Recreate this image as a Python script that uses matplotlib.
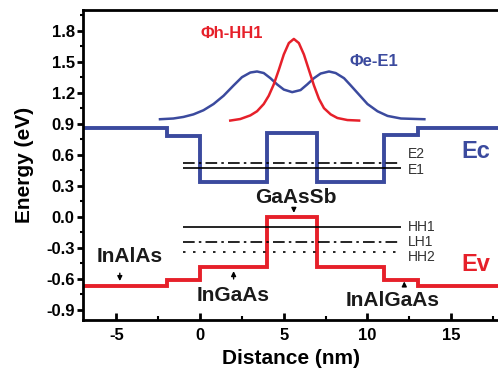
import matplotlib.pyplot as plt
from matplotlib.ticker import MultipleLocator
import numpy as np

plt.rcParams['font.family'] = ['Liberation Sans', 'DejaVu Sans']
plt.rcParams['axes.unicode_minus'] = False

# layer boundaries (nm) and band edges (eV)
edges = [-7, -2, 0, 4, 7, 11, 13, 17.8]
ec = [0.86, 0.78, 0.34, 0.81, 0.34, 0.79, 0.86]
ev = [-0.67, -0.61, -0.49, 0.0, -0.49, -0.61, -0.67]

# confined levels (eV)
e_levels = [0.52, 0.47]          # E2, E1
e_names = ['E2', 'E1']
h_levels = [-0.10, -0.245, -0.34]  # HH1, LH1, HH2
h_names = ['HH1', 'LH1', 'HH2']

# wavefunctions
phi_h_x = [1.8, 2.4, 3.0, 3.4, 3.8, 4.1, 4.4, 4.7, 5.0, 5.3, 5.6, 5.9, 6.2,
           6.5, 6.8, 7.1, 7.4, 7.8, 8.2, 8.8, 9.5]
phi_h_y = [0.93, 0.945, 0.98, 1.02, 1.09, 1.17, 1.28, 1.42, 1.57, 1.68, 1.72,
           1.68, 1.57, 1.42, 1.27, 1.14, 1.05, 0.99, 0.955, 0.935, 0.93]
phi_e_x = [-2.4, -1.6, -1.0, -0.4, 0.2, 0.8, 1.4, 2.0, 2.5, 3.0, 3.4, 3.8,
           4.2, 4.6, 5.0, 5.5, 6.0, 6.4, 6.8, 7.2, 7.7, 8.1, 8.6, 9.0, 9.5,
           10.0, 10.6, 11.2, 12.0, 13.4]
phi_e_y = [0.943, 0.95, 0.965, 0.99, 1.03, 1.09, 1.17, 1.27, 1.35, 1.395,
           1.405, 1.39, 1.34, 1.28, 1.23, 1.205, 1.225, 1.28, 1.34, 1.385,
           1.405, 1.39, 1.34, 1.27, 1.18, 1.09, 1.02, 0.975, 0.95, 0.943]

yticks = [-0.9, -0.6, -0.3, 0.0, 0.3, 0.6, 0.9, 1.2, 1.5, 1.8]
xticks = [-5, 0, 5, 10, 15]

blue = '#3b4a9e'
red = '#e6202a'

fig = plt.figure(figsize=(4.98, 3.77), dpi=100)
ax = fig.add_axes([83/498, 1-320/377, (498-83)/498, 310/377])

# band edges
ax.stairs(ec, edges, baseline=None, color=blue, lw=2.8, joinstyle='miter')
ax.stairs(ev, edges, baseline=None, color=red, lw=2.8, joinstyle='miter')

# wavefunctions
ax.plot(phi_e_x, phi_e_y, color=blue, lw=1.8)
ax.plot(phi_h_x, phi_h_y, color=red, lw=1.8)

# energy levels
styles = ['-', (0, (7, 2.5, 1.5, 2.5)), (0, (1.5, 4.5))]
ax.hlines(e_levels[0], -1.0, 11.8, colors='k', linestyles=styles[1], lw=1.2)
ax.hlines(e_levels[1], -1.0, 12.0, colors='k', linestyles=styles[0], lw=1.2)
for lev, ls in zip(h_levels, styles):
    ax.hlines(lev, -1.0, 12.0, colors='k', linestyles=ls, lw=1.2)

lab = dict(fontsize=10, color='#333333', va='center', ha='left')
ax.text(12.4, 0.607, e_names[0], **lab)
ax.text(12.4, 0.452, e_names[1], **lab)
ax.text(12.4, -0.10, h_names[0], **lab)
ax.text(12.4, -0.245, h_names[1], **lab)
ax.text(12.4, -0.39, h_names[2], **lab)

# labels
ax.text(1.86, 1.77, 'Φh-HH1', color=red, fontsize=12, fontweight='bold',
        ha='center', va='center')
ax.text(10.4, 1.50, 'Φe-E1', color=blue, fontsize=12, fontweight='bold',
        ha='center', va='center')
ax.text(16.5, 0.63, 'Ec', color=blue, fontsize=17, fontweight='bold',
        ha='center', va='center')
ax.text(16.5, -0.46, 'Ev', color=red, fontsize=17, fontweight='bold',
        ha='center', va='center')

mat = dict(fontsize=15, fontweight='bold', color='#1a1a1a', ha='center', va='center')
ax.text(-4.2, -0.39, 'InAlAs', **mat)
ax.text(2.0, -0.76, 'InGaAs', **mat)
ax.text(5.75, 0.19, 'GaAsSb', **mat)
ax.text(11.5, -0.81, 'InAlGaAs', **mat)

arr = dict(arrowstyle='-|>', color='k', lw=1, mutation_scale=7)
ax.annotate('', xy=(-4.8, -0.65), xytext=(-4.8, -0.52), arrowprops=arr)
ax.annotate('', xy=(2.0, -0.50), xytext=(2.0, -0.63), arrowprops=arr)
ax.annotate('', xy=(5.6, 0.01), xytext=(5.6, 0.10), arrowprops=arr)
ax.annotate('', xy=(12.2, -0.60), xytext=(12.2, -0.70), arrowprops=arr)

ax.set_xlim(-7, 17.8)
ax.set_ylim(-1.0, 2.0)
ax.set_yticks(yticks)
ax.set_yticklabels(['%.1f' % v for v in yticks])
ax.set_xticks(xticks)
ax.xaxis.set_minor_locator(MultipleLocator(2.5))
ax.yaxis.set_minor_locator(MultipleLocator(0.15))

for s in ['left', 'bottom', 'top']:
    ax.spines[s].set_linewidth(2)
ax.spines['right'].set_visible(False)

ax.tick_params(axis='x', which='major', direction='in', length=5, width=2,
               labelsize=12, pad=6)
ax.tick_params(axis='x', which='minor', direction='in', length=3, width=1.5)
ax.tick_params(axis='y', which='major', direction='out', length=4, width=2,
               labelsize=12, pad=2)
ax.tick_params(axis='y', which='minor', direction='out', length=2, width=1.5)
for t in ax.get_xticklabels() + ax.get_yticklabels():
    t.set_fontweight('bold')

ax.set_xlabel('Distance (nm)', fontsize=15, fontweight='bold', labelpad=4)
ax.set_ylabel('Energy (eV)', fontsize=15, fontweight='bold', labelpad=9)

fig.savefig('out.png', dpi=100)
